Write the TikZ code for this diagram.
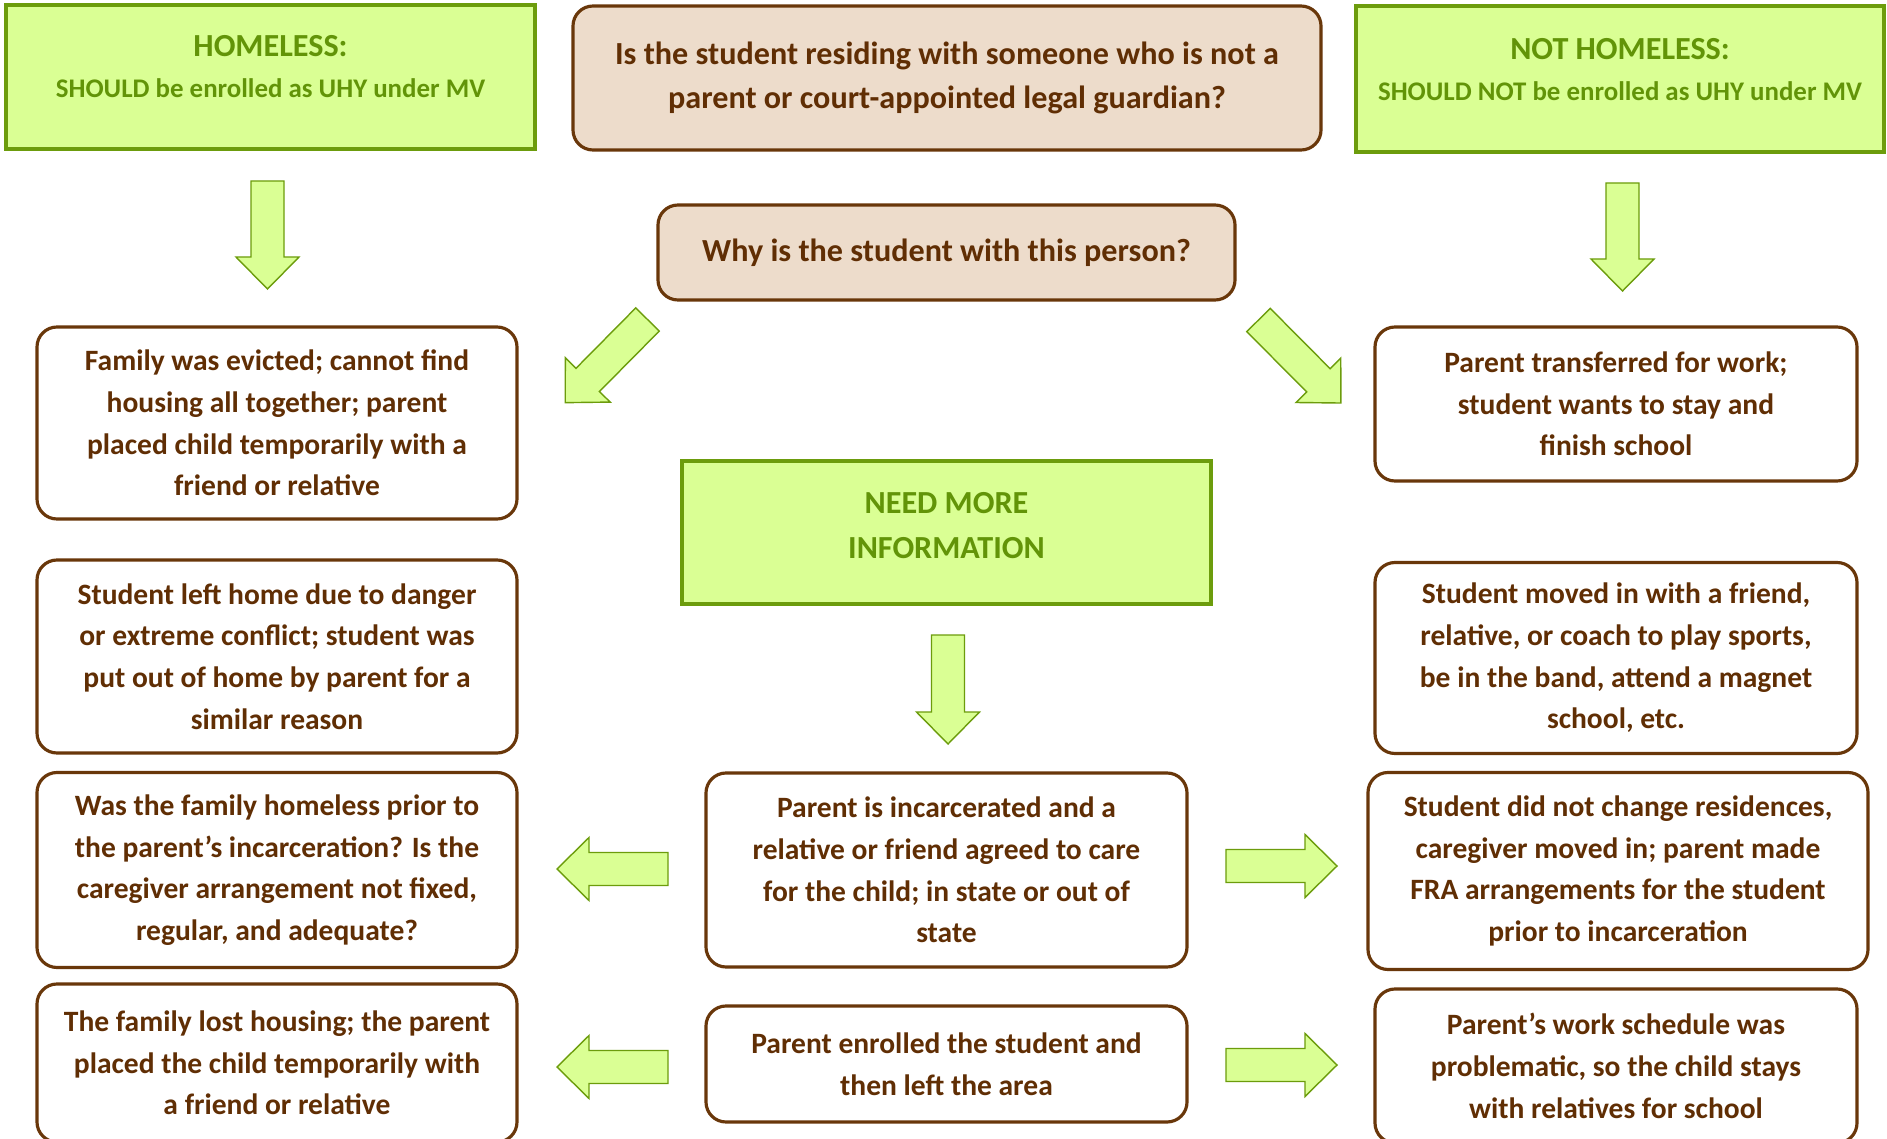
\documentclass[tikz,border=0pt]{standalone}
\usepackage{fontspec}
\setmainfont{Carlito}
\usetikzlibrary{positioning}

\definecolor{brownline}{RGB}{105,55,10}
\definecolor{browntext}{RGB}{96,46,4}
\definecolor{beige}{RGB}{237,220,203}
\definecolor{limefill}{RGB}{218,255,148}
\definecolor{greenline}{RGB}{108,156,12}
\definecolor{greentext}{RGB}{98,148,8}

\tikzset{
  choice/.style={draw=brownline, line width=1.8pt, rounded corners=4mm, fill=white,
    text=browntext, align=center, inner sep=0pt, font=\bfseries\fontsize{16.8}{23.7}\selectfont},
  question/.style={choice, fill=beige, font=\bfseries\fontsize{18.3}{25.2}\selectfont},
  verdict/.style={draw=greenline, line width=1.8pt, fill=limefill, text=greentext,
    align=center, inner sep=0pt, font=\bfseries\fontsize{18.3}{23.2}\selectfont},
  arrowbox/.style={draw=greenline, fill=limefill, line width=0.8pt, line join=miter},
  pics/fatarrow/.style={code={
    \filldraw[arrowbox] (0,-16.5) -- ({#1-32},-16.5) -- ({#1-32},-31.5) -- (#1,0)
      -- ({#1-32},31.5) -- ({#1-32},16.5) -- (0,16.5) -- cycle;
  }}
}

\begin{document}
\begin{tikzpicture}[x=0.2mm, y=-0.2mm]
  \path[use as bounding box, fill=white] (0,0) rectangle (1887,1139);

  % Top row
  \node[verdict, minimum width=105.8mm, minimum height=28.8mm, text depth=12pt] (homeless) at (270.5,77)
    {HOMELESS:\\ {\fontsize{15.3}{23.2}\selectfont SHOULD be enrolled as UHY under MV}};
  \node[question, minimum width=149.6mm, minimum height=28.8mm] (question) at (947,78)
    {Is the student residing with someone who is not a\\ parent or court-appointed legal guardian?};
  \node[verdict, minimum width=105.6mm, minimum height=29.2mm, text depth=11pt] (nothomeless) at (1620,79)
    {NOT HOMELESS:\\ {\fontsize{15.3}{23.2}\selectfont SHOULD NOT be enrolled as UHY under MV}};

  \node[question, minimum width=115.4mm, minimum height=19mm] (why) at (946.5,252.5)
    {Why is the student with this person?};

  % Homeless column
  \node[choice, minimum width=96mm, minimum height=38.4mm] (evicted) at (277,423)
    {Family was evicted; cannot find\\ housing all together; parent\\ placed child temporarily with a\\ friend or relative};
  \node[choice, minimum width=96mm, minimum height=38.6mm] (danger) at (277,656.5)
    {Student left home due to danger\\ or extreme conflict; student was\\ put out of home by parent for a\\ similar reason};
  \node[choice, minimum width=96mm, minimum height=39mm] (priorhomeless) at (277,870)
    {Was the family homeless prior to\\ the parent’s incarceration? Is the\\ caregiver arrangement not fixed,\\ regular, and adequate?};
  \node[choice, minimum width=96mm, minimum height=31.6mm] (losthousing) at (277,1063)
    {The family lost housing; the parent\\ placed the child temporarily with\\ a friend or relative};

  % Middle column
  \node[verdict, minimum width=105.8mm, minimum height=28.6mm, text depth=8pt] (needinfo) at (946.5,532.5)
    {NEED MORE\\[2pt] INFORMATION};
  \node[choice, minimum width=96.2mm, minimum height=38.8mm] (incarcerated) at (946.5,870)
    {Parent is incarcerated and a\\ relative or friend agreed to care\\ for the child; in state or out of\\ state};
  \node[choice, minimum width=96.2mm, minimum height=23.2mm] (leftarea) at (946.5,1064)
    {Parent enrolled the student and\\ then left the area};

  % Not homeless column
  \node[choice, minimum width=96.4mm, minimum height=30.8mm] (transferred) at (1616,404)
    {Parent transferred for work;\\ student wants to stay and\\ finish school};
  \node[choice, minimum width=96.4mm, minimum height=38.2mm] (sports) at (1616,658)
    {Student moved in with a friend,\\ relative, or coach to play sports,\\ be in the band, attend a magnet\\ school, etc.};
  \node[choice, minimum width=100mm, minimum height=39.4mm] (caregiver) at (1618,871)
    {Student did not change residences,\\ caregiver moved in; parent made\\ FRA arrangements for the student\\ prior to incarceration};
  \node[choice, minimum width=96.4mm, minimum height=30.8mm] (workschedule) at (1616,1066)
    {Parent’s work schedule was\\ problematic, so the child stays\\ with relatives for school};

  % Block arrows
  \pic[rotate=-90] at (267.5,181) {fatarrow=108};
  \pic[rotate=-90] at (1622.5,183) {fatarrow=108};
  \pic[rotate=-134.7] at (647.5,319.5) {fatarrow=117};
  \pic[rotate=-45.2] at (1258.5,320) {fatarrow=117};
  \pic[rotate=-90] at (948,635) {fatarrow=109};
  \pic[rotate=180] at (668,869) {fatarrow=111};
  \pic[rotate=180] at (668,1067) {fatarrow=111};
  \pic at (1226,866) {fatarrow=111};
  \pic at (1226,1065) {fatarrow=111};
\end{tikzpicture}
\end{document}
